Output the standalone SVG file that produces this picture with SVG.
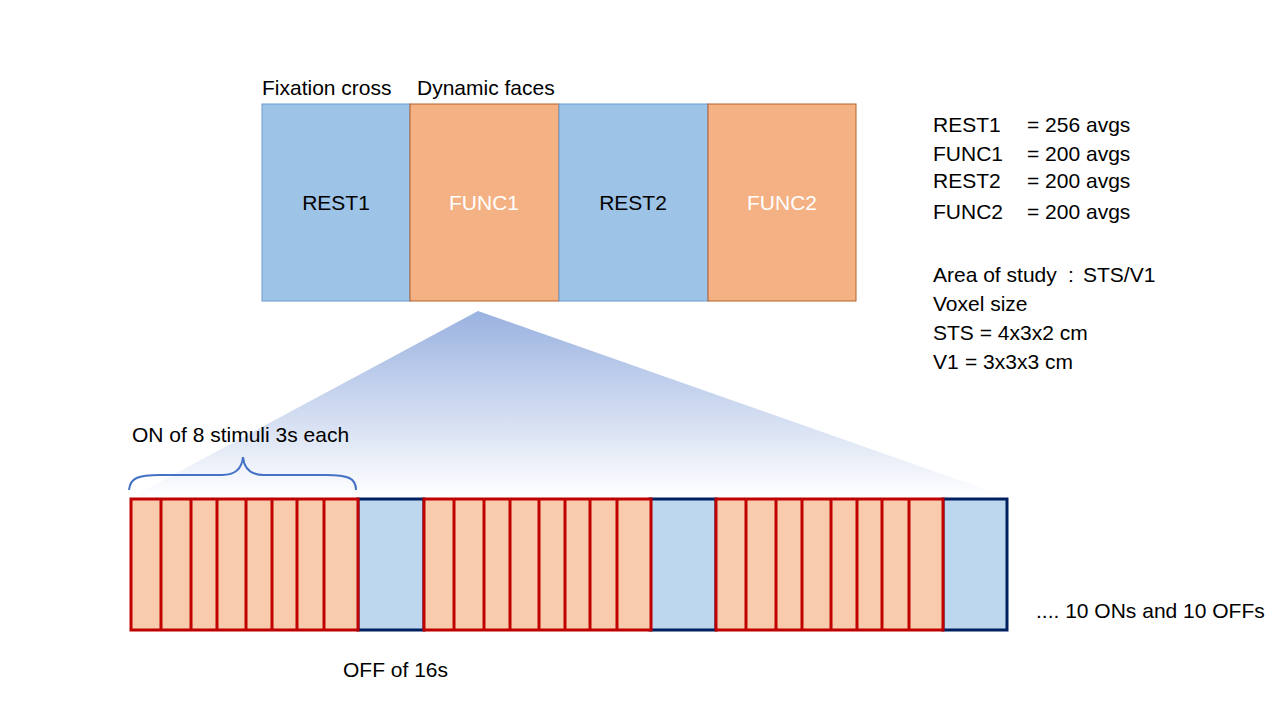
<svg xmlns="http://www.w3.org/2000/svg" width="1280" height="720" viewBox="0 0 1280 720">
<style>
text{font-family:"Liberation Sans",Arial,sans-serif;font-size:21px;fill:#000}
.w{fill:#fff}
.c{text-anchor:middle}
.rb{fill:#9DC3E6;stroke:#6A9BD0;stroke-width:1}
.ob{fill:#F4B183;stroke:#B4632B;stroke-width:1}
.on{fill:#F8CBAD;stroke:#C00000;stroke-width:3}
.off{fill:#BDD7EE;stroke:#002060;stroke-width:3}
.div{stroke:#C00000;stroke-width:3}
</style>
<defs>
<linearGradient id="fade" x1="0" y1="0" x2="0" y2="1">
<stop offset="0" stop-color="#9AB2E0"/>
<stop offset="1" stop-color="#FFFFFF"/>
</linearGradient>
<g id="onblock">
<rect class="on" x="0" y="0" width="227" height="131"/>
<path class="div" d="M30 0V131M60 0V131M86 0V131M115 0V131M141 0V131M166 0V131M193 0V131"/>
</g>
</defs>
<rect width="1280" height="720" fill="#fff"/>

<g id="zoom-wedge">
<polygon points="478,311 130,498 1010,498" fill="url(#fade)"/>
</g>

<g id="labels-top">
<text x="262" y="95">Fixation cross</text>
<text x="417" y="95">Dynamic faces</text>
</g>

<g id="REST1"><rect class="rb" x="262" y="104" width="148" height="197"/><text class="c" x="336" y="210">REST1</text></g>
<g id="FUNC1"><rect class="ob" x="410" y="104" width="149" height="197"/><text class="c w" x="484" y="210">FUNC1</text></g>
<g id="REST2"><rect class="rb" x="559" y="104" width="149" height="197"/><text class="c" x="633" y="210">REST2</text></g>
<g id="FUNC2"><rect class="ob" x="708" y="104" width="148" height="197"/><text class="c w" x="782" y="210">FUNC2</text></g>

<g id="info">
<text x="933" y="132">REST1</text><text x="1027" y="132">= 256 avgs</text>
<text x="933" y="161">FUNC1</text><text x="1027" y="161">= 200 avgs</text>
<text x="933" y="188">REST2</text><text x="1027" y="188">= 200 avgs</text>
<text x="933" y="219">FUNC2</text><text x="1027" y="219">= 200 avgs</text>
<text x="933" y="282">Area of study</text><text x="1068" y="282">:</text><text x="1083" y="282">STS/V1</text>
<text x="933" y="311">Voxel size</text>
<text x="933" y="340">STS = 4x3x2 cm</text>
<text x="933" y="369">V1</text><text x="965" y="369">= 3x3x3 cm</text>
</g>

<g id="connectors">
<path d="M129 490C130 478 138 475 160 475H222C236 475 242 468 243 457C244 468 250 475 264 475H326C348 475 356 478 356 490" fill="none" stroke="#4472C4" stroke-width="2"/>
</g>

<g id="timeline">
<rect class="off" x="358" y="499" width="66" height="131"/>
<rect class="off" x="650" y="499" width="66" height="131"/>
<rect class="off" x="943" y="499" width="64" height="131"/>
<use href="#onblock" x="131" y="499"/>
<use href="#onblock" x="424" y="499"/>
<use href="#onblock" x="716" y="499"/>
</g>

<g id="labels-bottom">
<text x="132" y="442">ON of 8 stimuli 3s each</text>
<text x="343" y="677">OFF of 16s</text>
<text x="1036" y="618">.... 10 ONs and 10 OFFs</text>
</g>
</svg>
